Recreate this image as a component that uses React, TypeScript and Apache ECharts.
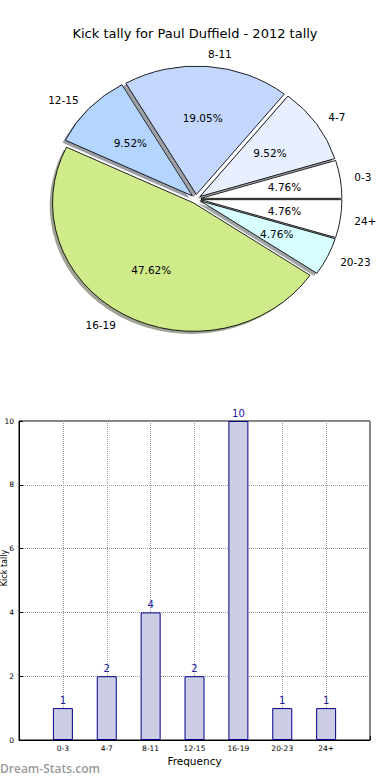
import React, { useEffect, useRef } from 'react';
import * as echarts from 'echarts';

// ---------- data ----------
const categories = ['0-3', '4-7', '8-11', '12-15', '16-19', '20-23', '24+'];
const kickCounts = [1, 2, 4, 2, 10, 1, 1];
const sliceColors = ['#ffffff', '#e8f0ff', '#c4d8ff', '#b3d5ff', '#d0eb8a', '#d8ffff', '#ffffff'];
const yTicks = [0, 2, 4, 6, 8, 10];
const TITLE = 'Kick tally for Paul Duffield - 2012 tally';
const Y_NAME = 'Kick tally';
const X_NAME = 'Frequency';
const WATERMARK = 'Dream-Stats.com';

// ---------- pie geometry (matplotlib-like, elliptical, exploded with shadow) ----------
const PIE_CX = 196;
const PIE_CY = 199;
const RX = 141;
const RY = 128.5;
const EXPLODE = 0.035;
const SHADOW = 0.02;
const FONT = 'DejaVu Sans';

const total = kickCounts.reduce((a, b) => a + b, 0);
const starts: number[] = [];
{
  let acc = 0;
  kickCounts.forEach((v) => {
    starts.push(acc);
    acc += v;
  });
}

function shadowOf(hex: string) {
  const n = parseInt(hex.slice(1), 16);
  const r = Math.round(((n >> 16) & 255) * 0.3);
  const g = Math.round(((n >> 8) & 255) * 0.3);
  const b = Math.round((n & 255) * 0.3);
  return `rgba(${r},${g},${b},0.5)`;
}

const renderSlice = (params: any, api: any) => {
  const i = params.dataIndex;
  const v = api.value(0) as number;
  const a1 = (starts[i] / total) * Math.PI * 2;
  const a2 = ((starts[i] + v) / total) * Math.PI * 2;
  const am = (a1 + a2) / 2;
  const k = RY / RX;
  const ox = EXPLODE * RX * Math.cos(am);
  const oy = -EXPLODE * RX * Math.sin(am);
  const color = sliceColors[i];
  const sector = (dx: number, dy: number, style: any, z2: number) => ({
    type: 'sector',
    z2,
    shape: { cx: ox + dx, cy: oy + dy, r: RX, r0: 0, startAngle: -a2, endAngle: -a1, clockwise: true },
    style,
  });
  const lx = PIE_CX + (EXPLODE + 1.1) * RX * Math.cos(am);
  const ly = PIE_CY - (EXPLODE + 1.1) * RY * Math.sin(am);
  const px = PIE_CX + (EXPLODE + 0.6) * RX * Math.cos(am);
  const py = PIE_CY - (EXPLODE + 0.6) * RY * Math.sin(am);
  return {
    type: 'group',
    children: [
      {
        type: 'group',
        x: PIE_CX,
        y: PIE_CY,
        scaleX: 1,
        scaleY: k,
        children: [
          sector(-SHADOW * RX, SHADOW * RX, { fill: shadowOf(color), stroke: null, lineWidth: 0 }, 1),
          sector(0, 0, { fill: color, stroke: '#000', lineWidth: 0.9, strokeNoScale: true }, 10),
        ],
      },
      {
        type: 'text',
        z2: 20,
        x: lx,
        y: ly,
        style: {
          text: categories[i],
          fill: '#000',
          fontSize: 10.5,
          fontFamily: FONT,
          align: lx > PIE_CX ? 'left' : 'right',
          verticalAlign: 'middle',
        },
      },
      {
        type: 'text',
        z2: 20,
        x: px,
        y: py,
        style: {
          text: ((v / total) * 100).toFixed(2) + '%',
          fill: '#000',
          fontSize: 10.5,
          fontFamily: FONT,
          align: 'center',
          verticalAlign: 'middle',
        },
      },
    ],
  };
};

const gridLine = { show: true, lineStyle: { type: 'dotted', color: '#999999', width: 1 } };

const option: any = {
  animation: false,
  backgroundColor: '#ffffff',
  textStyle: { fontFamily: FONT },
  title: {
    text: TITLE,
    left: 'center',
    top: 22,
    textStyle: { fontSize: 13, fontWeight: 'normal', fontFamily: FONT, color: '#000' },
  },
  grid: {
    left: 19,
    right: 20,
    top: 421,
    bottom: 40,
    show: true,
    borderColor: '#000',
    borderWidth: 1,
    backgroundColor: 'transparent',
    containLabel: false,
    outerBoundsMode: 'none',
  },
  xAxis: {
    type: 'value',
    min: -1,
    max: 7,
    interval: 1,
    axisLine: { show: true, onZero: false, lineStyle: { color: '#000', width: 1 } },
    axisTick: { show: true, inside: true, length: 4, lineStyle: { color: '#000' } },
    axisLabel: {
      formatter: (val: number) => categories[val] ?? '',
      fontSize: 7.5,
      color: '#000',
      margin: 4,
      fontFamily: FONT,
    },
    splitLine: gridLine,
    name: X_NAME,
    nameLocation: 'middle',
    nameGap: 15,
    nameTextStyle: { fontSize: 10.5, color: '#000', fontFamily: FONT },
  },
  yAxis: {
    type: 'value',
    min: yTicks[0],
    max: yTicks[yTicks.length - 1],
    interval: yTicks[1] - yTicks[0],
    axisLine: { show: true, onZero: false, lineStyle: { color: '#000', width: 1 } },
    axisTick: { show: true, inside: true, length: 4, lineStyle: { color: '#000' } },
    axisLabel: { fontSize: 7.5, color: '#000', margin: 5, fontFamily: FONT },
    splitLine: gridLine,
  },
  graphic: [
    {
      type: 'text',
      x: 4.5,
      y: 568,
      rotation: Math.PI / 2,
      style: {
        text: Y_NAME,
        fill: '#000',
        fontSize: 8,
        fontFamily: FONT,
        align: 'center',
        verticalAlign: 'middle',
      },
    },
    {
      type: 'text',
      left: 0,
      top: 762,
      style: {
        text: WATERMARK,
        fill: '#9a9a9a',
        fontSize: 12,
        fontWeight: 600,
        fontFamily: 'Open Sans',
      },
    },
  ],
  series: [
    {
      type: 'custom',
      coordinateSystem: 'none',
      silent: true,
      renderItem: renderSlice,
      data: kickCounts.map((v, i) => ({ value: [v], name: categories[i] })),
    },
    {
      type: 'bar',
      barWidth: 20,
      data: kickCounts.map((v, i) => [i, v]),
      itemStyle: { color: '#cccce5', borderColor: '#00008b', borderWidth: 1 },
      label: {
        show: true,
        position: 'top',
        distance: 3,
        color: '#1a1aa0',
        fontSize: 10,
        fontFamily: FONT,
        formatter: (p: any) => String(p.value[1]),
      },
    },
  ],
};

export default function App() {
  const ref = useRef<HTMLDivElement>(null);
  useEffect(() => {
    if (!ref.current) return;
    const chart = echarts.init(ref.current, undefined, { renderer: 'svg' });
    chart.setOption(option);
    return () => chart.dispose();
  }, []);
  return (
    <div
      ref={ref}
      style={{ position: 'absolute', left: 0, top: 0, width: 390, height: 780, background: '#fff' }}
    />
  );
}
